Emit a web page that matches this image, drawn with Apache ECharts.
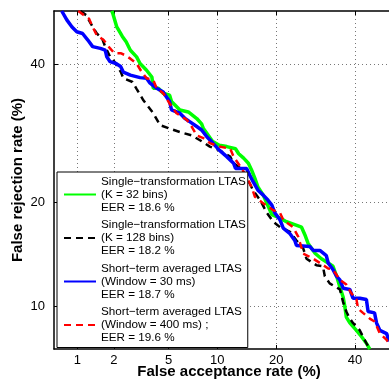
<!DOCTYPE html>
<html>
<head>
<meta charset="utf-8">
<script src="https://cdn.jsdelivr.net/npm/echarts@6/dist/echarts.min.js"></script>
<style>
  html, body { margin: 0; padding: 0; background: #fff; }
  #chart { width: 389px; height: 380px; }
</style>
</head>
<body>
<div id="chart"></div>
<script>
// tick labels (percent) on the normal-deviate axes
const xTicks = [1, 2, 5, 10, 20, 40];
const yTicks = [10, 20, 40];

const seriesNames = ['k32', 'k128', 'w30', 'w400'];
const legendLines = {
  k32: ['Single\u2212transformation LTAS', '(K = 32 bins)', 'EER = 18.6 %'],
  k128: ['Single\u2212transformation LTAS', '(K = 128 bins)', 'EER = 18.2 %'],
  w30: ['Short\u2212term averaged LTAS', '(Window = 30 ms)', 'EER = 18.7 %'],
  w400: ['Short\u2212term averaged LTAS', '(Window = 400 ms) ;', 'EER = 19.6 %']
};

// false acceptance / false rejection, in %
const k32FA = [1.93, 1.97, 2.11, 2.33, 2.49, 2.68, 2.98, 3.16, 3.52, 3.84, 3.93, 4.26, 4.6, 5.08, 5.23, 5.93, 6.71, 7.57, 8.1, 8.3, 8.7, 9.43, 10.27, 11.3, 12.6, 13.1, 13.9, 14.7, 15.25, 15.85, 16.4, 17.4, 18.1, 19.1, 20.8, 22.2, 25.7, 26.5, 27.3, 29.1, 30.7, 32.5, 33.8, 34.8, 35.7, 36.6, 37.1, 37.5, 38.5, 40.4, 41.9, 43.3, 44.3];
const k32FR = [48.9, 48.4, 46.2, 44.6, 43.7, 42.3, 41.2, 40.1, 39, 37.9, 36.1, 36.1, 35.3, 35, 34, 32.7, 32.4, 31.4, 30.6, 29.9, 29.2, 28, 27.5, 27.3, 27, 26.3, 25.7, 25, 24.1, 23, 21.9, 20.9, 19.9, 18.6, 18.2, 17.8, 17.2, 16.4, 15.5, 14.5, 14, 13.6, 13.3, 12.4, 11.5, 10.7, 9.95, 9.2, 8.8, 8.3, 7.9, 7.5, 7.15];

const k128FA = [1.065, 1.19, 1.3, 1.46, 1.61, 1.71, 1.87, 2.02, 2.27, 2.37, 2.78, 2.98, 3.34, 3.93, 4.38, 5.08, 5.93, 7.04, 7.92, 9.06, 10.27, 11.8, 12.3, 13.4, 14.4, 15.5, 16.8, 18.1, 19.4, 20.8, 23, 24.5, 26.1, 26.9, 29.4, 31.1, 31.6, 32.9, 35.7, 36.6, 37.5, 38.5, 39.4, 41.4, 42.3, 43.3, 44.3];
const k128FR = [48.9, 48.2, 46.8, 45.1, 44.3, 42.9, 41.2, 40.4, 38.7, 37.7, 37.1, 36, 34.2, 32.2, 30.4, 29.9, 29.4, 28.9, 28.2, 27.3, 26.8, 25.9, 25, 24.3, 23.2, 21.5, 20.3, 18.8, 17.8, 17.2, 16.7, 15.8, 15, 14, 13.4, 13.3, 12.4, 11.8, 11.3, 10.3, 9.6, 9.1, 8.8, 8.3, 7.9, 7.5, 7.15];

const w30FA = [0.73, 0.81, 0.9, 0.99, 1.11, 1.23, 1.35, 1.56, 1.71, 1.76, 1.87, 2.08, 2.26, 2.37, 2.68, 3.16, 3.52, 3.73, 4.15, 4.6, 4.84, 5.08, 5.23, 5.93, 6.4, 6.88, 7.57, 8.1, 8.7, 9.43, 10.27, 11.3, 12.3, 12.6, 14.4, 14.95, 15.5, 16.4, 17.4, 18.3, 19.1, 19.7, 20.8, 21.5, 23, 24.1, 24.5, 27.7, 28.6, 30.3, 32, 32.5, 33.8, 34.8, 35.7, 36.6, 38.5, 39.4, 41.4, 43.3, 43.8, 45.7, 46.3, 47.3, 49.3, 50];
const w30FR = [48.9, 47.4, 46.2, 45.4, 45.1, 44, 42.9, 42.6, 42.3, 41.2, 40.4, 40.1, 39.6, 38.7, 38.2, 37.8, 37.7, 36.9, 36.1, 35.5, 34.7, 34, 32.7, 32.2, 31.4, 30.9, 30.2, 29.7, 28.7, 27.8, 26.8, 25.9, 25, 24.3, 24.3, 23.4, 22.6, 21.5, 20.9, 20.3, 19.7, 18.8, 18, 17.1, 16.5, 15.8, 15.3, 15.2, 14.8, 14.8, 14.3, 13.6, 13, 12.4, 12.1, 11.4, 11.3, 10.6, 10.6, 10.5, 9.6, 9.5, 8.8, 8.3, 8.1, 7.6];

const w400FA = [1.02, 1.14, 1.26, 1.35, 1.46, 1.66, 1.87, 2.02, 2.26, 2.43, 2.68, 2.98, 3.25, 3.52, 3.93, 4.15, 4.6, 5.08, 5.64, 6.56, 7.04, 7.57, 8.3, 9.06, 10.27, 11.8, 12.3, 13.4, 14.4, 15.25, 15.85, 17.4, 19.4, 20.8, 21.5, 23.7, 24.9, 26.1, 28.6, 30.3, 32.5, 33.8, 35.7, 37.5, 38.9, 40.4, 40.9, 42.3, 44.3, 45.7, 47.3, 49.3, 50];
const w400FR = [48.9, 48.2, 47.6, 46.2, 44.8, 44, 42.6, 41.8, 41.8, 41.5, 40.9, 40.1, 38.7, 37.7, 37.4, 36.1, 35.3, 33.7, 32.2, 31.2, 30.2, 28.9, 28.5, 27.8, 27.3, 27, 25.9, 24.5, 23.2, 21.9, 20.7, 19.9, 19.1, 18.8, 18, 17.2, 16.2, 14.5, 14, 13.6, 13.1, 13, 12.1, 11.7, 11, 10.5, 9.8, 9.5, 9.1, 8.9, 8.1, 7.7, 7.5];

// inverse normal CDF (Acklam), used as the DET axis scale
function probit(p) {
  const a = [-3.969683028665376e+01, 2.209460984245205e+02, -2.759285104469687e+02, 1.383577518672690e+02, -3.066479806614716e+01, 2.506628277459239e+00];
  const b = [-5.447609879822406e+01, 1.615858368580409e+02, -1.556989798598866e+02, 6.680131188771972e+01, -1.328068155288572e+01];
  const c = [-7.784894002430293e-03, -3.223964580411365e-01, -2.400758277161838e+00, -2.549732539343734e+00, 4.374664141464968e+00, 2.938163982698783e+00];
  const d = [7.784695709041462e-03, 3.224671290700398e-01, 2.445134137142996e+00, 3.754408661907416e+00];
  const pl = 0.02425;
  let q, r;
  if (p < pl) {
    q = Math.sqrt(-2 * Math.log(p));
    return (((((c[0]*q+c[1])*q+c[2])*q+c[3])*q+c[4])*q+c[5]) / ((((d[0]*q+d[1])*q+d[2])*q+d[3])*q+1);
  }
  if (p <= 1 - pl) {
    q = p - 0.5; r = q * q;
    return (((((a[0]*r+a[1])*r+a[2])*r+a[3])*r+a[4])*r+a[5])*q / (((((b[0]*r+b[1])*r+b[2])*r+b[3])*r+b[4])*r+1);
  }
  q = Math.sqrt(-2 * Math.log(1 - p));
  return -(((((c[0]*q+c[1])*q+c[2])*q+c[3])*q+c[4])*q+c[5]) / ((((d[0]*q+d[1])*q+d[2])*q+d[3])*q+1);
}
const dev = v => probit(v / 100);

function pairs(fa, fr) {
  return fa.map((v, i) => [dev(v), dev(fr[i])]);
}

function nearestLabel(ticks, value) {
  let best = 0;
  ticks.forEach((t, i) => {
    if (Math.abs(dev(t) - value) < Math.abs(dev(ticks[best]) - value)) best = i;
  });
  return String(ticks[best]);
}

const chart = echarts.init(document.getElementById('chart'));
const font = 'Liberation Sans, Arial, Helvetica, sans-serif';
const grid = { type: [1, 3], color: '#777', width: 1 };

const xValues = xTicks.map(dev);
const yValues = yTicks.map(dev);

const option = {
  animation: false,
  grid: { left: 54, top: 11, right: 0, bottom: 31, containLabel: false, outerBoundsMode: 'none' },
  xAxis: [{
    type: 'value',
    min: dev(0.621),
    max: 0,
    name: 'False acceptance rate (%)',
    nameLocation: 'middle',
    nameGap: 15,
    nameMoveOverlap: false,
    nameTextStyle: { fontFamily: font, fontSize: 15, fontWeight: 'bold', color: '#000', padding: [0, 0, 0, 15] },
    axisLine: { show: true, onZero: false, lineStyle: { color: '#000', width: 1.5 } },
    axisTick: { show: true, inside: true, length: 4, customValues: xValues, lineStyle: { color: '#000' } },
    axisLabel: {
      customValues: xValues, margin: 5, fontFamily: font, fontSize: 13, color: '#000',
      formatter: v => nearestLabel(xTicks, v)
    },
    splitLine: { show: true, lineStyle: grid }
  }, {
    type: 'value',
    position: 'top',
    min: dev(0.621),
    max: 0,
    axisLine: { show: true, onZero: false, lineStyle: { color: '#000', width: 1.5 } },
    axisTick: { show: true, inside: true, length: 4, customValues: xValues, lineStyle: { color: '#000' } },
    axisLabel: { show: false },
    splitLine: { show: false }
  }],
  yAxis: {
    type: 'value',
    min: dev(7.16),
    max: dev(48.9),
    name: 'False rejection rate (%)',
    nameLocation: 'middle',
    nameGap: 29,
    nameMoveOverlap: false,
    nameTextStyle: { fontFamily: font, fontSize: 15, fontWeight: 'bold', color: '#000' },
    axisLine: { show: true, onZero: false, lineStyle: { color: '#000', width: 1.5 } },
    axisTick: { show: true, inside: true, length: 4, customValues: yValues, lineStyle: { color: '#000' } },
    axisLabel: {
      customValues: yValues, margin: 9, fontFamily: font, fontSize: 13, color: '#000',
      formatter: v => nearestLabel(yTicks, v)
    },
    splitLine: { show: true, lineStyle: grid }
  },
  legend: {
    orient: 'vertical',
    left: 57,
    top: 172,
    data: seriesNames,
    itemWidth: 32,
    itemHeight: 10,
    itemGap: 4.5,
    padding: [3, 2, 3, 6],
    backgroundColor: '#fff',
    borderColor: '#000',
    borderWidth: 1,
    borderRadius: 0,
    itemStyle: { opacity: 0 },
    textStyle: { fontFamily: font, fontSize: 11.7, lineHeight: 13, color: '#000' },
    formatter: name => legendLines[name].join('\n')
  },
  series: [
    { name: 'k32', type: 'line', data: pairs(k32FA, k32FR), symbol: 'none', color: '#00ff00',
      lineStyle: { color: '#00ff00', width: 3.5 } },
    { name: 'k128', type: 'line', data: pairs(k128FA, k128FR), symbol: 'none', color: '#000000',
      lineStyle: { color: '#000000', width: 2.5, type: [7, 5] } },
    { name: 'w30', type: 'line', data: pairs(w30FA, w30FR), symbol: 'none', color: '#0000ff',
      lineStyle: { color: '#0000ff', width: 3.5 } },
    { name: 'w400', type: 'line', data: pairs(w400FA, w400FR), symbol: 'none', color: '#ff0000',
      lineStyle: { color: '#ff0000', width: 2.5, type: [7, 5] } }
  ]
};
chart.setOption(option);
</script>
</body>
</html>
